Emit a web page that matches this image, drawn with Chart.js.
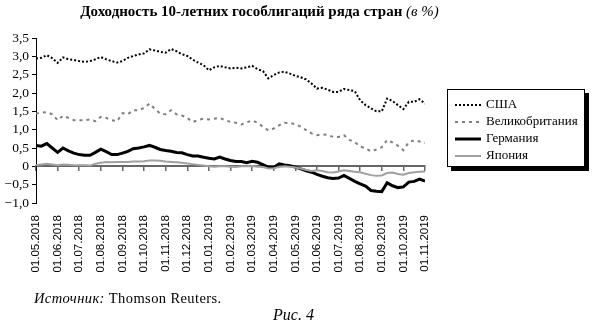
<!DOCTYPE html>
<html lang="ru">
<head>
<meta charset="utf-8">
<script src="https://cdn.jsdelivr.net/npm/chart.js@4/dist/chart.umd.min.js"></script>
<style>
  body { margin: 0; background: #fff; }
  #wrap { position: relative; width: 595px; height: 325px; overflow: hidden; font-family: 'Liberation Serif', serif; color: #000; }
  #chart { position: absolute; left: 0; top: 0; }
  .title { position: absolute; left: 0; top: 3px; width: 519px; text-align: center; font-weight: bold; font-size: 15px; white-space: nowrap; }
  .title i { font-weight: normal; }
  #legend { position: absolute; left: 447px; top: 89px; width: 138px; height: 78px; box-sizing: border-box; border: 1px solid #000; background: #fff; box-shadow: 4px 4px 0 #000; padding-top: 5px; }
  #legend .row { height: 17px; line-height: 17px; font-size: 13px; white-space: nowrap; }
  #legend svg { display: inline-block; vertical-align: middle; margin-left: 7px; margin-right: 5px; }
  .source { position: absolute; left: 34px; top: 290px; font-size: 14.5px; letter-spacing: 0.4px; white-space: nowrap; }
  .fig { position: absolute; left: 273px; top: 306px; font-size: 16px; font-style: italic; white-space: nowrap; }
</style>
</head>
<body>
<div id="wrap">
  <canvas id="chart" width="595" height="325"></canvas>
  <div class="title">Доходность 10-летних гособлигаций ряда стран <i>(в %)</i></div>
  <div id="legend"></div>
  <div class="source"><i>Источник:</i> Thomson Reuters.</div>
  <div class="fig">Рис. 4</div>
</div>
<script>
"use strict";

// month tick labels
const months = ['01.05.2018', '01.06.2018', '01.07.2018', '01.08.2018', '01.09.2018', '01.10.2018',
    '01.11.2018', '01.12.2018', '01.01.2019', '01.02.2019', '01.03.2019', '01.04.2019', '01.05.2019',
    '01.06.2019', '01.07.2019', '01.08.2019', '01.09.2019', '01.10.2019', '01.11.2019'];

// time in months since 01.05.2018 (about one point per week)
const t = [0, 0.25, 0.5, 0.75, 1, 1.25, 1.5, 1.75, 2, 2.25, 2.5, 2.75, 3, 3.25, 3.5, 3.75, 4, 4.25, 4.5,
    4.75, 5, 5.25, 5.5, 5.75, 6, 6.25, 6.5, 6.75, 7, 7.25, 7.5, 7.75, 8, 8.25, 8.5, 8.75, 9,
    9.25, 9.5, 9.75, 10, 10.25, 10.5, 10.75, 11, 11.25, 11.5, 11.75, 12, 12.25, 12.5, 12.75, 13, 13.25, 13.5, 13.75,
    14, 14.25, 14.5, 14.75, 15, 15.25, 15.5, 15.75, 16, 16.25, 16.5, 16.75, 17, 17.25, 17.5, 17.75, 18];

const usa = [2.94, 2.96, 3.03, 2.95, 2.82, 2.97, 2.92, 2.9, 2.87, 2.85, 2.87, 2.92, 2.98, 2.92, 2.87, 2.83, 2.87, 2.96, 3.01,
    3.05, 3.08, 3.19, 3.16, 3.12, 3.1, 3.2, 3.14, 3.06, 3.01, 2.91, 2.83, 2.76, 2.62, 2.7, 2.74, 2.7, 2.67,
    2.69, 2.67, 2.7, 2.74, 2.65, 2.6, 2.4, 2.49, 2.56, 2.58, 2.53, 2.47, 2.43, 2.37, 2.26, 2.12, 2.14, 2.09, 2.03,
    2.03, 2.11, 2.08, 2.05, 1.8, 1.67, 1.58, 1.5, 1.5, 1.85, 1.78, 1.67, 1.56, 1.76, 1.76, 1.83, 1.71];

const uk = [1.44, 1.46, 1.48, 1.42, 1.26, 1.38, 1.32, 1.26, 1.26, 1.26, 1.28, 1.23, 1.35, 1.32, 1.26, 1.23, 1.45, 1.42, 1.53,
    1.53, 1.59, 1.71, 1.57, 1.44, 1.42, 1.53, 1.42, 1.39, 1.32, 1.21, 1.26, 1.3, 1.28, 1.3, 1.32, 1.26, 1.21,
    1.19, 1.14, 1.2, 1.25, 1.19, 1.08, 0.98, 1.03, 1.12, 1.19, 1.18, 1.15, 1.08, 0.99, 0.9, 0.85, 0.87, 0.86, 0.8,
    0.8, 0.85, 0.72, 0.66, 0.54, 0.49, 0.41, 0.46, 0.52, 0.72, 0.65, 0.56, 0.44, 0.66, 0.71, 0.68, 0.64];

const germany = [0.57, 0.55, 0.62, 0.5, 0.38, 0.5, 0.42, 0.36, 0.32, 0.3, 0.3, 0.38, 0.47, 0.4, 0.32, 0.32, 0.36, 0.41, 0.48,
    0.5, 0.53, 0.57, 0.52, 0.46, 0.43, 0.41, 0.38, 0.37, 0.32, 0.28, 0.28, 0.25, 0.22, 0.2, 0.25, 0.2, 0.16,
    0.13, 0.13, 0.1, 0.14, 0.11, 0.05, -0.02, -0.03, 0.07, 0.04, 0.02, -0.02, -0.07, -0.12, -0.16, -0.22, -0.27, -0.31, -0.33,
    -0.32, -0.25, -0.33, -0.41, -0.48, -0.54, -0.66, -0.68, -0.69, -0.45, -0.53, -0.58, -0.56, -0.43, -0.41, -0.35, -0.4];

const japan = [0.03, 0.05, 0.07, 0.05, 0.03, 0.05, 0.04, 0.03, 0.03, 0.03, 0.02, 0.07, 0.1, 0.12, 0.11, 0.12, 0.12, 0.12, 0.13,
    0.13, 0.14, 0.16, 0.16, 0.15, 0.13, 0.12, 0.11, 0.1, 0.08, 0.06, 0.04, 0.02, 0.0, -0.01, 0.0, 0.0, -0.01,
    -0.02, 0.0, 0.0, 0.01, -0.01, -0.02, -0.06, -0.05, -0.02, 0.0, -0.01, -0.03, -0.06, -0.1, -0.13, -0.11, -0.13, -0.16, -0.17,
    -0.14, -0.11, -0.13, -0.15, -0.16, -0.2, -0.24, -0.26, -0.25, -0.18, -0.17, -0.21, -0.23, -0.18, -0.16, -0.15, -0.14];

const series_names = ['США', 'Великобритания', 'Германия', 'Япония'];
const series_values = [usa, uk, germany, japan];
const series_style = [
    { color: '#000', width: 2, dash: [2, 2] },
    { color: '#7f7f7f', width: 2, dash: [3, 4] },
    { color: '#000', width: 3, dash: [] },
    { color: '#a0a0a0', width: 2, dash: [] },
];

function to_points (values) {
    return values.map((v, i) => ({ x: t[i], y: v }));
}

const datasets = series_names.map((name, i) => ({
    label: name,
    data: to_points(series_values[i]),
    borderColor: series_style[i].color,
    borderWidth: series_style[i].width,
    borderDash: series_style[i].dash,
    pointRadius: 0,
    tension: 0,
    fill: false,
}));
// draw the solid lines first, dotted ones on top
datasets.reverse();

function y_label (v) {
    if (v === 0) return '0';
    return v.toFixed(1).replace('.', ',').replace('-', '\u2212');
}

new Chart(document.getElementById('chart').getContext('2d'), {
    type: 'line',
    data: { datasets: datasets },
    options: {
        responsive: false,
        animation: false,
        layout: { padding: { top: 38, right: 170, bottom: 0, left: 0 } },
        plugins: { legend: { display: false }, tooltip: { enabled: false } },
        scales: {
            // axis line through zero with month tick marks
            x: {
                type: 'linear',
                position: { y: 0 },
                min: 0, max: 18,
                ticks: { display: false, stepSize: 1 },
                grid: { drawOnChartArea: false, drawTicks: true, tickLength: 4, color: '#666', lineWidth: 1.5 },
                border: { color: '#666', width: 2 },
            },
            // month labels at the bottom
            x2: {
                type: 'linear',
                position: 'bottom',
                min: 0, max: 18,
                ticks: {
                    stepSize: 1,
                    autoSkip: false,
                    minRotation: 90, maxRotation: 90,
                    padding: 12,
                    color: '#000',
                    font: { family: 'Liberation Sans', size: 11.5 },
                    callback: (v) => months[v] || '',
                },
                grid: { display: false, drawTicks: false },
                border: { display: false },
                afterFit: (s) => { s.height = 122; },
            },
            y: {
                min: -1, max: 3.5,
                ticks: {
                    stepSize: 0.5,
                    autoSkip: false,
                    padding: 3,
                    color: '#000',
                    font: { family: 'Liberation Serif', size: 13.5 },
                    callback: y_label,
                },
                grid: { drawOnChartArea: false, drawTicks: true, tickLength: 4, color: '#000' },
                border: { color: '#000', width: 1 },
                afterFit: (s) => { s.width = 36; },
            },
        },
    },
});

// legend box
const legend = document.getElementById('legend');
series_names.forEach((name, i) => {
    const st = series_style[i];
    const row = document.createElement('div');
    row.className = 'row';
    row.innerHTML = '<svg width="26" height="4"><line x1="0" y1="2" x2="26" y2="2" stroke="' + st.color +
        '" stroke-width="' + st.width + '" stroke-dasharray="' + (st.dash.length ? st.dash.join(' ') : 'none') +
        '"/></svg>' + name;
    legend.appendChild(row);
});
</script>
</body>
</html>
